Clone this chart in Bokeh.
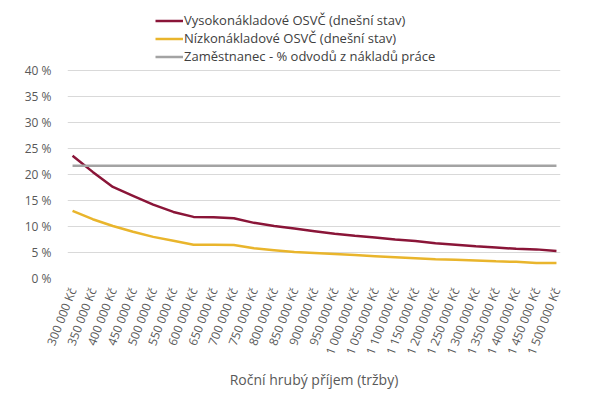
import math
from bokeh.plotting import figure
from bokeh.models import Legend, LegendItem, FixedTicker, PrintfTickFormatter, Range1d
from bokeh.embed import file_html
from bokeh.resources import INLINE

incomes = [300000 + 50000 * i for i in range(25)]
income_labels = ["300 000 Kč", "350 000 Kč", "400 000 Kč", "450 000 Kč", "500 000 Kč",
                 "550 000 Kč", "600 000 Kč", "650 000 Kč", "700 000 Kč", "750 000 Kč",
                 "800 000 Kč", "850 000 Kč", "900 000 Kč", "950 000 Kč", "1 000 000 Kč",
                 "1 050 000 Kč", "1 100 000 Kč", "1 150 000 Kč", "1 200 000 Kč", "1 250 000 Kč",
                 "1 300 000 Kč", "1 350 000 Kč", "1 400 000 Kč", "1 450 000 Kč", "1 500 000 Kč"]

vysoko = [23.6, 20.5, 17.6, 15.9, 14.2, 12.8, 11.85, 11.8, 11.6, 10.7, 10.1, 9.6, 9.1,
          8.6, 8.2, 7.9, 7.5, 7.2, 6.8, 6.5, 6.2, 5.95, 5.7, 5.6, 5.3]
nizko = [13.0, 11.4, 10.1, 9.0, 8.0, 7.25, 6.5, 6.5, 6.45, 5.8, 5.45, 5.1, 4.9,
         4.7, 4.5, 4.3, 4.1, 3.9, 3.7, 3.6, 3.45, 3.3, 3.2, 3.0, 3.0]
zamestnanec = [21.7] * 25

y_ticks = [0, 5, 10, 15, 20, 25, 30, 35, 40]

x_idx = list(range(len(incomes)))

FONT = "Open Sans"
p = figure(width=586, height=385, output_backend="svg", toolbar_location=None,
           x_range=Range1d(-0.25, 24.2), y_range=Range1d(0, 51.15))
p.frame_width = 493
p.frame_height = 266
p.min_border_left = 67
p.min_border_right = 26
p.min_border_top = 12
p.min_border_bottom = 107
p.outline_line_color = None

r1 = p.line(x_idx, vysoko, line_color="#8a1538", line_width=2.5)
r2 = p.line(x_idx, nizko, line_color="#e9b52c", line_width=2.5)
r3 = p.line(x_idx, zamestnanec, line_color="#a3a3a3", line_width=2.5)

p.xgrid.grid_line_color = None
p.ygrid.grid_line_color = "#d9d9d9"
p.ygrid.grid_line_width = 1
p.yaxis.ticker = FixedTicker(ticks=y_ticks)
p.yaxis.formatter = PrintfTickFormatter(format="%d %%")
p.xaxis.ticker = FixedTicker(ticks=x_idx)
p.xaxis.major_label_overrides = {i: lab for i, lab in enumerate(income_labels)}
p.xaxis.major_label_orientation = 1.2

for ax in (p.xaxis, p.yaxis):
    ax.axis_line_color = None
    ax.major_tick_line_color = None
    ax.minor_tick_line_color = None
    ax.major_label_text_font = FONT
    ax.major_label_text_font_size = "12px"
    ax.major_label_text_color = "#595959"
p.yaxis.major_label_standoff = 10
p.xaxis.major_label_standoff = 4

p.xaxis.axis_label = "Roční hrubý příjem (tržby)"
p.xaxis.axis_label_text_font = FONT
p.xaxis.axis_label_text_font_size = "14px"
p.xaxis.axis_label_text_font_style = "normal"
p.xaxis.axis_label_text_color = "#595959"
p.xaxis.axis_label_standoff = 7

legend = Legend(items=[
    LegendItem(label="Vysokonákladové OSVČ (dnešní stav)", renderers=[r1]),
    LegendItem(label="Nízkonákladové OSVČ (dnešní stav)", renderers=[r2]),
    LegendItem(label="Zaměstnanec - % odvodů z nákladů práce", renderers=[r3]),
], location=(88, 213))
legend.border_line_color = None
legend.background_fill_alpha = 0
legend.padding = 0
legend.margin = 0
legend.spacing = 0
legend.glyph_width = 28
legend.glyph_height = 17
legend.label_height = 17
legend.label_standoff = 1
legend.label_text_font = FONT
legend.label_text_font_size = "13px"
legend.label_text_color = "#404040"
p.add_layout(legend, "center")

open("out.html", "w").write(file_html(p, INLINE))
